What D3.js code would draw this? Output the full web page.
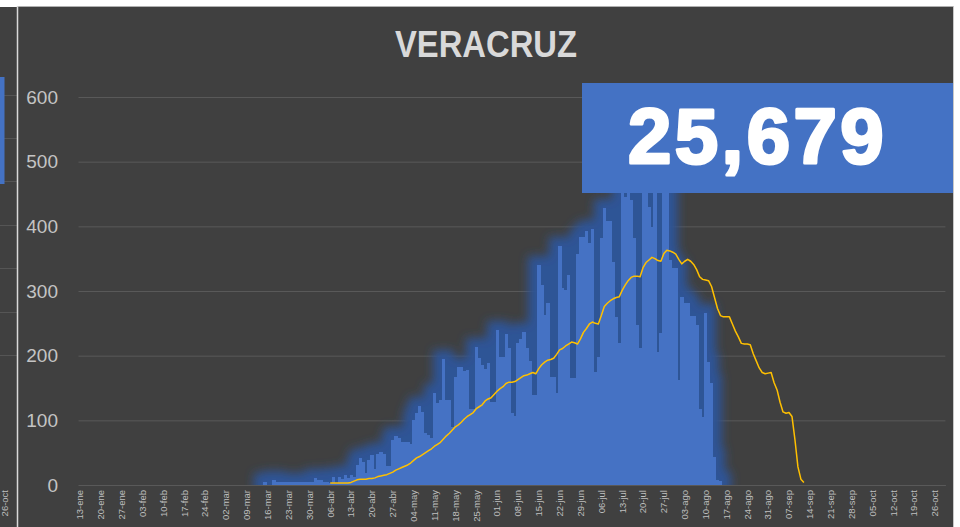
<!DOCTYPE html>
<html>
<head>
<meta charset="utf-8">
<script src="https://cdn.jsdelivr.net/npm/d3@7"></script>
<style>
  html, body { margin: 0; padding: 0; background: #ffffff; }
  svg { display: block; font-family: "Liberation Sans", Arial, sans-serif; }
</style>
</head>
<body>
<script>
// Daily confirmed cases, Veracruz (one value per day from caseStart)
const firstDay = "2020-01-13";
const nDays = 291;
const caseStart = "2020-03-15";
const cases = [
  5, 0, 0, 7, 5, 5, 5, 5,
  4, 4, 4, 4, 4, 4, 4, 4, 4,
  11, 7, 7, 5, 5,
  3, 13, 3, 13, 10, 15, 11, 15, 13,
  31, 41, 36, 19, 38, 46, 25,
  48, 51, 48, 29, 29,
  70, 76, 72, 67, 66, 67, 64,
  100, 111, 122, 113, 80, 78, 73,
  142, 127, 132, 195, 132, 132, 90,
  167, 183, 183, 176, 178, 118, 118,
  213, 196, 186, 180, 188, 128, 128,
  240, 198, 198, 233, 212, 111, 107,
  219, 226, 236, 212, 192, 139, 139,
  340, 309, 263, 281, 167, 167, 142,
  370, 305, 302, 325, 165, 165, 357,
  384, 384, 393, 375, 396, 175, 198,
  382, 428, 408, 408, 345, 260, 219,
  500, 445, 470, 440, 382, 247, 212,
  520, 480, 430, 399, 470, 206, 235,
  540, 490, 348, 335, 335, 162, 291,
  281, 282, 261, 261, 247, 118, 105,
  266, 190, 158, 43, 8, 6
];

// Trend line (one value per day from trendStart)
const trendStart = "2020-04-06";
const trend = [
  3, 3, 3, 3, 3, 3, 3, 4, 6, 8,
  9, 9, 9, 10, 10, 11, 13, 14, 15, 16,
  18, 20, 23, 25, 27, 29, 31, 34, 38, 42,
  44, 47, 50, 53, 56, 60, 63, 66, 71, 76,
  80, 85, 90, 93, 97, 102, 106, 109, 112, 118,
  121, 124, 130, 133, 135, 140, 145, 149, 152, 157,
  159, 159, 160, 163, 166, 169, 170, 172, 174, 172,
  180, 186, 190, 193, 194, 196, 202, 209, 211, 215,
  218, 221, 220, 218, 226, 236, 242, 249, 252, 250,
  249, 262, 276, 281, 285, 288, 290, 291, 301, 309,
  316, 321, 323, 323, 322, 336, 344, 348, 352, 350,
  347, 346, 358, 363, 362, 360, 357, 349, 342, 346,
  349, 346, 341, 333, 322, 318, 317, 316, 307, 290,
  273, 262, 260, 260, 260, 249, 238, 229, 219, 218,
  218, 217, 203, 192, 181, 174, 172, 173, 174, 158,
  147, 128, 113, 111, 112, 106, 70, 28, 9, 4
];

const yTicks = [0, 100, 200, 300, 400, 500, 600];
const xTickLabels = [
  "13-ene", "20-ene", "27-ene", "03-feb", "10-feb", "17-feb", "24-feb",
  "02-mar", "09-mar", "16-mar", "23-mar", "30-mar", "06-abr", "13-abr",
  "20-abr", "27-abr", "04-may", "11-may", "18-may", "25-may", "01-jun",
  "08-jun", "15-jun", "22-jun", "29-jun", "06-jul", "13-jul", "20-jul",
  "27-jul", "03-ago", "10-ago", "17-ago", "24-ago", "31-ago", "07-sep",
  "14-sep", "21-sep", "28-sep", "05-oct", "12-oct", "19-oct", "26-oct"
];
const chartTitle = "VERACRUZ";
const totalCases = 25679;

// ---- helpers ----
const parse = d3.utcParse("%Y-%m-%d");
const dayIndex = s => d3.utcDay.count(parse(firstDay), parse(s));
const caseOffset = dayIndex(caseStart);
const trendOffset = dayIndex(trendStart);

const W = 960, H = 527;
const plot = { left: 78.5, right: 945.4, top: 97, bottom: 485 };

const svg = d3.select("body").append("svg").attr("width", W).attr("height", H);

// panels
svg.append("rect").attr("width", W).attr("height", H).attr("fill", "#ffffff");
svg.append("rect").attr("x", 0).attr("y", 7).attr("width", 953).attr("height", H - 7).attr("fill", "#404040");

// neighbouring panel edge on the left
const side = svg.append("g");
[95, 138, 181, 225, 268, 312, 355].forEach(v => {
  side.append("line").attr("x1", 0).attr("x2", 17).attr("y1", v + 0.5).attr("y2", v + 0.5)
    .attr("stroke", "#555555").attr("stroke-width", 1);
});
side.append("rect").attr("x", 0).attr("y", 77).attr("width", 4.5).attr("height", 107).attr("fill", "#4472C4");
side.append("text").attr("transform", "translate(5,490) rotate(-90)")
  .attr("text-anchor", "end").attr("dy", "0.35em")
  .attr("fill", "#bfbfbf").attr("font-size", 9.5).text(xTickLabels[xTickLabels.length - 1]);

svg.append("line").attr("x1", 17).attr("x2", 953).attr("y1", 6.5).attr("y2", 6.5).attr("stroke", "#b0b0b0");
svg.append("line").attr("x1", 17.5).attr("x2", 17.5).attr("y1", 6).attr("y2", H).attr("stroke", "#d9d9d9").attr("stroke-width", 1.5);
svg.append("line").attr("x1", 953.5).attr("x2", 953.5).attr("y1", 6).attr("y2", H).attr("stroke", "#c8c8c8");

// scales
const x = d3.scaleBand().domain(d3.range(nDays)).range([plot.left, plot.right]).paddingInner(0);
const bw = x.bandwidth();
const y = d3.scaleLinear().domain([0, 600]).range([plot.bottom, plot.top]);

// glow filter for the bars: dilated, blurred dark-blue halo under the bars
const defs = svg.append("defs");
const f = defs.append("filter").attr("id", "glow")
  .attr("filterUnits", "userSpaceOnUse")
  .attr("x", 200).attr("y", 100).attr("width", 600).attr("height", 400);
f.append("feMorphology").attr("in", "SourceAlpha").attr("operator", "dilate").attr("radius", 9).attr("result", "dil");
f.append("feGaussianBlur").attr("in", "dil").attr("stdDeviation", 5).attr("result", "blur");
f.append("feFlood").attr("flood-color", "#2e5496").attr("flood-opacity", 1).attr("result", "col");
f.append("feComposite").attr("in", "col").attr("in2", "blur").attr("operator", "in").attr("result", "halo");
const m = f.append("feMerge");
m.append("feMergeNode").attr("in", "halo");
m.append("feMergeNode").attr("in", "SourceGraphic");

defs.append("clipPath").attr("id", "plotClip").append("rect")
  .attr("x", 18).attr("y", 7).attr("width", 935).attr("height", plot.bottom - 7);

// gridlines
svg.append("g").attr("transform", `translate(${plot.left},0)`)
  .call(d3.axisLeft(y).tickValues(yTicks).tickSize(-(plot.right - plot.left)).tickFormat(""))
  .call(g => g.select(".domain").remove())
  .call(g => g.selectAll("line").attr("stroke", "#595959").attr("stroke-width", 1));

// y labels
svg.append("g").attr("transform", "translate(58,0)")
  .call(d3.axisLeft(y).tickValues(yTicks).tickSize(0).tickPadding(0))
  .call(g => g.select(".domain").remove())
  .call(g => g.selectAll("text").attr("fill", "#c4c4c4").attr("font-size", 19)
    .attr("font-family", "\"Liberation Sans\", Arial, sans-serif"));

// bars
const barData = cases.map((v, i) => ({ d: caseOffset + i, v }));
svg.append("g").attr("clip-path", "url(#plotClip)")
  .append("g").attr("filter", "url(#glow)")
  .selectAll("rect").data(barData.filter(b => b.v > 0)).join("rect")
  .attr("x", b => x(b.d))
  .attr("width", bw + 0.4)
  .attr("y", b => y(b.v))
  .attr("height", b => y(0) - y(b.v))
  .attr("fill", "#4472C4")
  .attr("shape-rendering", "crispEdges");

// trend line
const trendData = trend.map((v, i) => ({ d: trendOffset + i, v }));
svg.append("path").datum(trendData)
  .attr("fill", "none").attr("stroke", "#FFC000").attr("stroke-width", 1.5)
  .attr("stroke-linejoin", "round")
  .attr("d", d3.line().x(p => x(p.d) + bw / 2).y(p => y(p.v)));

// x axis labels
const tickIdx = d3.range(0, nDays, 7).slice(0, xTickLabels.length);
svg.append("g").attr("transform", `translate(0,${plot.bottom})`)
  .call(d3.axisBottom(x).tickValues(tickIdx).tickSize(0).tickFormat((d, i) => xTickLabels[i]))
  .call(g => g.select(".domain").attr("stroke", "#595959"))
  .call(g => g.selectAll("text")
    .attr("font-size", 9.5).attr("fill", "#bfbfbf")
    .attr("font-family", "\"Liberation Sans\", Arial, sans-serif")
    .attr("text-anchor", "end")
    .attr("transform", "rotate(-90)")
    .attr("x", -5).attr("y", 0).attr("dy", "0.35em"));

// title (condensed bold)
svg.append("text").attr("x", 486).attr("y", 57).attr("text-anchor", "middle")
  .attr("font-family", "\"Liberation Sans Narrow\", \"Arial Narrow\", \"Liberation Sans\", sans-serif")
  .attr("font-weight", "bold").attr("font-size", 37).attr("fill", "#d9d9d9")
  .attr("textLength", 182).attr("lengthAdjust", "spacingAndGlyphs")
  .text(chartTitle);

// total box
svg.append("rect").attr("x", 582).attr("y", 83).attr("width", 371).attr("height", 110).attr("fill", "#4472C4");
svg.append("text").attr("x", 628).attr("y", 163)
  .attr("font-family", "\"Liberation Sans\", Arial, sans-serif")
  .attr("font-weight", "bold").attr("font-size", 78).attr("letter-spacing", 3.4)
  .attr("fill", "#ffffff").attr("stroke", "#ffffff").attr("stroke-width", 3).attr("stroke-linejoin", "round")
  .text(d3.format(",")(totalCases));
</script>
</body>
</html>
